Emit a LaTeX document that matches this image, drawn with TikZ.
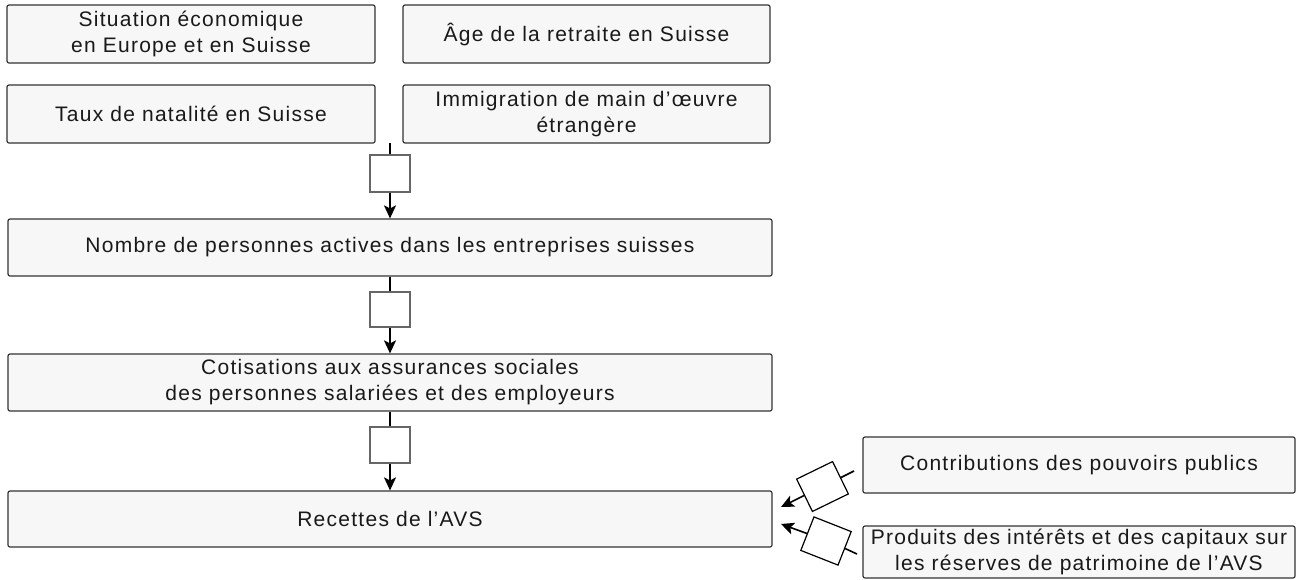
\documentclass[tikz,border=0pt]{standalone}
\usepackage{fontspec}
\setmainfont[LetterSpace=6]{Liberation Sans}
\usetikzlibrary{arrows.meta}
\begin{document}
\begin{tikzpicture}[x=1pt,y=-1pt,
  box/.style={draw=black!80, fill=black!3, rounded corners=2pt, line width=1.2pt,
    align=center, inner sep=0pt, font=\fontsize{21}{26}\selectfont, text=black!90},
  gate/.style={draw=black!60, fill=white, line width=1.2pt, inner sep=0pt,
    minimum width=40pt, minimum height=36pt},
  link/.style={line width=1.6pt, black},
  arr/.style={link, -{Stealth[length=13pt,width=12pt,inset=3pt]}}]
\useasboundingbox (0,0) rectangle (1302,579);
\node[box, minimum width=368pt, minimum height=58pt] (sit) at (191,34) {Situation économique\\en Europe et en Suisse};
\node[box, minimum width=367pt, minimum height=58pt] (age) at (586.5,34) {Âge de la retraite en Suisse};
\node[box, minimum width=368pt, minimum height=58pt] (nat) at (191,114) {Taux de natalité en Suisse};
\node[box, minimum width=367pt, minimum height=58pt] (imm) at (586.5,114) {Immigration de main d’œuvre\\étrangère};
\node[box, minimum width=764pt, minimum height=57pt] (nombre) at (390,247.5) {Nombre de personnes actives dans les entreprises suisses};
\node[box, minimum width=764pt, minimum height=57pt] (cotis) at (390,382.5) {Cotisations aux assurances sociales\\des personnes salariées et des employeurs};
\node[box, minimum width=764pt, minimum height=56pt] (recettes) at (390,519) {Recettes de l’AVS};
\node[box, minimum width=432pt, minimum height=56pt] (contrib) at (1079,465) {Contributions des pouvoirs publics};
\node[box, minimum width=432pt, minimum height=52pt] (produits) at (1079,552) {Produits des intérêts et des capitaux sur\\les réserves de patrimoine de l’AVS};

\node[gate, minimum height=37pt] (g1) at (390,173.5) {};
\node[gate, minimum height=35pt] (g2) at (390,309.5) {};
\node[gate, minimum height=36pt] (g3) at (390,445) {};
\coordinate (top) at (390,143);
\draw[link] (top) -- (g1.north);
\draw[arr] (g1.south) -- (nombre.north);
\draw[link] (nombre.south) -- (g2.north);
\draw[arr] (g2.south) -- (cotis.north);
\draw[link] (cotis.south) -- (g3.north);
\draw[arr] (g3.south) -- (recettes.north);

\node[gate, draw=black, rotate=26] (d1) at (822.5,486.5) {};
\node[gate, draw=black, rotate=-21.5] (d2) at (826,541) {};
\coordinate (d1in) at (854,471);
\coordinate (d1out) at (781,507);
\coordinate (d2in) at (857,554);
\coordinate (d2out) at (781,524);
\draw[link] (d1in) -- (d1.east);
\draw[arr] (d1.west) -- (d1out);
\draw[link] (d2in) -- (d2.east);
\draw[arr] (d2.west) -- (d2out);
\end{tikzpicture}
\end{document}
